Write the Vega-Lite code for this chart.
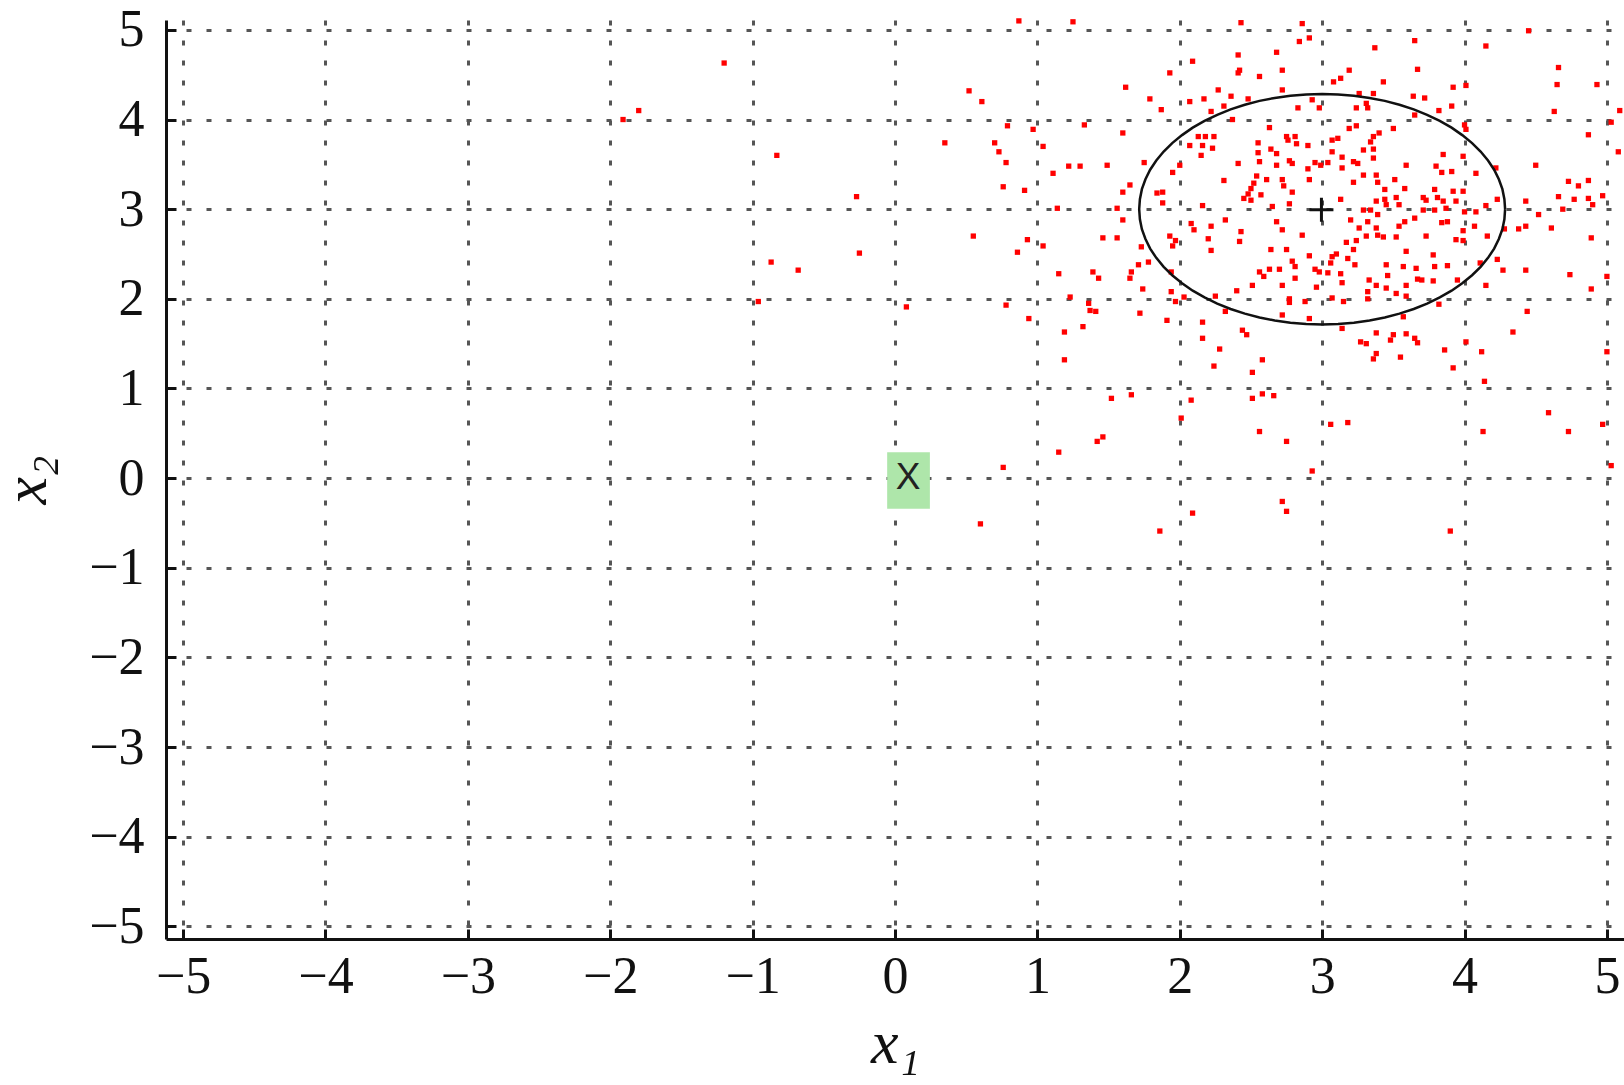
{
  "$schema": "https://vega.github.io/schema/vega-lite/v6.json",
  "width": 1458,
  "height": 919,
  "autosize": {"type": "none"},
  "padding": {"left": 166, "top": 20, "right": 0, "bottom": 146},
  "background": "#ffffff",
  "config": {
    "view": {"stroke": null},
    "axis": {
      "domainColor": "#111111", "domainWidth": 3,
      "tickColor": "#111111", "tickWidth": 3, "tickSize": -10,
      "grid": true, "gridColor": "#555555", "gridWidth": 3, "gridDash": [5, 15],
      "labelFont": "Liberation Serif", "labelFontSize": 52, "labelColor": "#111111",
      "titleFont": "Liberation Serif", "titleFontSize": 62, "titleFontStyle": "italic",
      "titleFontWeight": "normal", "titleColor": "#111111",
      "labelFlush": false, "labelOverlap": false, "labelBound": false
    }
  },
  "datasets": {
    "pts": [
      {"x":-1.20,"y":4.63},{"x":-1.80,"y":4.10},{"x":-1.91,"y":4.00},{"x":-0.83,"y":3.60},{"x":-0.27,"y":3.14},{"x":0.52,"y":4.32},{"x":0.61,"y":4.20},{"x":0.35,"y":3.74},{"x":-0.25,"y":2.51},{"x":-0.87,"y":2.41},{"x":-0.68,"y":2.32},{"x":0.55,"y":2.70},{"x":-0.96,"y":1.97},{"x":0.08,"y":1.91},{"x":0.60,"y":-0.51},
      {"x":0.87,"y":5.10},{"x":1.25,"y":5.09},{"x":2.09,"y":4.65},{"x":1.93,"y":4.52},{"x":1.62,"y":4.36},{"x":1.79,"y":4.23},{"x":2.07,"y":4.20},{"x":2.17,"y":4.23},{"x":1.87,"y":4.11},{"x":0.79,"y":3.93},{"x":0.97,"y":3.89},{"x":1.33,"y":3.94},{"x":1.60,"y":3.85},{"x":1.04,"y":3.70},{"x":0.70,"y":3.74},{"x":0.73,"y":3.64},{"x":0.78,"y":3.52},{"x":1.22,"y":3.48},{"x":1.30,"y":3.48},{"x":1.49,"y":3.49},{"x":1.11,"y":3.40},{"x":1.75,"y":3.52},{"x":1.95,"y":3.41},{"x":2.00,"y":3.49},{"x":2.07,"y":3.71},{"x":2.13,"y":3.81},{"x":2.18,"y":3.81},{"x":2.16,"y":3.71},{"x":2.15,"y":3.60},{"x":0.76,"y":3.25},{"x":0.91,"y":3.21},{"x":1.65,"y":3.27},{"x":1.60,"y":3.19},{"x":1.84,"y":3.18},{"x":1.88,"y":3.19},{"x":1.88,"y":3.07},{"x":1.14,"y":3.01},{"x":1.56,"y":3.01},{"x":2.16,"y":3.04},{"x":1.60,"y":2.88},{"x":2.08,"y":2.84},{"x":2.10,"y":2.77},{"x":2.20,"y":2.67},{"x":0.93,"y":2.66},{"x":1.04,"y":2.59},{"x":0.86,"y":2.52},{"x":1.46,"y":2.68},{"x":1.56,"y":2.68},{"x":1.93,"y":2.70},{"x":1.97,"y":2.65},{"x":1.95,"y":2.59},{"x":1.73,"y":2.58},{"x":1.78,"y":2.41},{"x":1.71,"y":2.38},{"x":1.66,"y":2.30},{"x":1.39,"y":2.30},{"x":1.15,"y":2.28},{"x":1.94,"y":2.30},
      {"x":2.43,"y":5.08},{"x":2.86,"y":5.07},{"x":2.84,"y":4.87},{"x":2.91,"y":4.91},{"x":3.37,"y":4.80},{"x":3.65,"y":4.88},{"x":2.41,"y":4.72},{"x":2.68,"y":4.75},{"x":2.42,"y":4.55},{"x":2.41,"y":4.52},{"x":2.72,"y":4.55},{"x":2.56,"y":4.48},{"x":3.19,"y":4.55},{"x":3.13,"y":4.46},{"x":3.08,"y":4.42},{"x":3.43,"y":4.42},{"x":3.67,"y":4.56},{"x":2.27,"y":4.33},{"x":2.36,"y":4.26},{"x":2.48,"y":4.23},{"x":2.72,"y":4.33},{"x":2.31,"y":4.15},{"x":2.22,"y":4.09},{"x":2.37,"y":4.00},{"x":2.83,"y":4.13},{"x":2.93,"y":4.22},{"x":2.98,"y":4.13},{"x":3.26,"y":4.29},{"x":3.36,"y":4.29},{"x":3.31,"y":4.18},{"x":3.24,"y":4.13},{"x":3.32,"y":4.13},{"x":3.64,"y":4.26},{"x":3.65,"y":4.05},{"x":2.63,"y":3.91},{"x":2.75,"y":3.81},{"x":2.81,"y":3.81},{"x":2.24,"y":3.81},{"x":2.23,"y":3.68},{"x":2.55,"y":3.74},{"x":2.55,"y":3.63},{"x":2.64,"y":3.67},{"x":2.68,"y":3.62},{"x":2.76,"y":3.77},{"x":2.82,"y":3.73},{"x":2.90,"y":3.71},{"x":3.07,"y":3.77},{"x":3.11,"y":3.79},{"x":3.07,"y":3.64},{"x":3.19,"y":3.90},{"x":3.24,"y":3.93},{"x":3.36,"y":3.81},{"x":3.40,"y":3.85},{"x":3.34,"y":3.75},{"x":3.29,"y":3.66},{"x":3.36,"y":3.67},{"x":3.50,"y":3.90},{"x":2.41,"y":3.51},{"x":2.56,"y":3.53},{"x":2.68,"y":3.49},{"x":2.77,"y":3.54},{"x":2.79,"y":3.51},{"x":2.90,"y":3.45},{"x":2.95,"y":3.52},{"x":2.99,"y":3.49},{"x":3.04,"y":3.52},{"x":2.91,"y":3.33},{"x":3.14,"y":3.58},{"x":3.14,"y":3.46},{"x":3.22,"y":3.53},{"x":3.25,"y":3.51},{"x":3.29,"y":3.38},{"x":3.36,"y":3.57},{"x":3.59,"y":3.49},{"x":2.31,"y":3.32},{"x":2.54,"y":3.37},{"x":2.52,"y":3.29},{"x":2.61,"y":3.33},{"x":2.72,"y":3.33},{"x":2.73,"y":3.26},{"x":2.79,"y":3.19},{"x":2.50,"y":3.23},{"x":2.48,"y":3.17},{"x":2.45,"y":3.12},{"x":2.50,"y":3.10},{"x":2.57,"y":3.16},{"x":2.65,"y":3.03},{"x":2.77,"y":3.06},{"x":3.13,"y":3.11},{"x":3.22,"y":3.30},{"x":3.38,"y":3.38},{"x":3.39,"y":3.30},{"x":3.44,"y":3.22},{"x":3.51,"y":3.33},{"x":3.58,"y":3.23},{"x":3.38,"y":3.09},{"x":3.44,"y":3.11},{"x":3.45,"y":3.05},{"x":3.52,"y":3.13},{"x":3.54,"y":3.05},{"x":3.29,"y":2.99},{"x":3.34,"y":2.99},{"x":3.39,"y":2.94},{"x":3.65,"y":2.90},{"x":2.32,"y":2.88},{"x":2.22,"y":2.81},{"x":2.68,"y":2.86},{"x":2.72,"y":2.77},{"x":2.86,"y":2.71},{"x":3.20,"y":2.88},{"x":3.26,"y":2.79},{"x":3.32,"y":2.86},{"x":3.38,"y":2.79},{"x":3.39,"y":2.71},{"x":3.43,"y":2.69},{"x":3.54,"y":2.81},{"x":3.58,"y":2.86},{"x":3.52,"y":2.69},{"x":3.31,"y":2.70},{"x":2.43,"y":2.75},{"x":2.42,"y":2.64},{"x":2.22,"y":2.54},{"x":2.64,"y":2.55},{"x":2.75,"y":2.55},{"x":2.79,"y":2.42},{"x":2.81,"y":2.36},{"x":2.91,"y":2.48},{"x":3.07,"y":2.47},{"x":3.10,"y":2.50},{"x":3.06,"y":2.40},{"x":3.17,"y":2.63},{"x":3.24,"y":2.65},{"x":3.22,"y":2.55},{"x":3.18,"y":2.45},{"x":3.23,"y":2.38},{"x":3.59,"y":2.53},{"x":3.45,"y":2.38},{"x":3.57,"y":2.36},{"x":3.66,"y":2.34},{"x":2.56,"y":2.30},{"x":2.63,"y":2.33},{"x":2.70,"y":2.33},{"x":2.95,"y":2.33},{"x":2.98,"y":2.30},{"x":3.04,"y":2.29},
      {"x":4.45,"y":4.99},{"x":4.15,"y":4.82},{"x":4.66,"y":4.58},{"x":4.65,"y":4.39},{"x":4.93,"y":4.39},{"x":4.01,"y":4.38},{"x":3.92,"y":4.36},{"x":3.72,"y":4.24},{"x":3.91,"y":4.15},{"x":3.82,"y":4.10},{"x":4.63,"y":4.09},{"x":5.09,"y":4.10},{"x":5.03,"y":3.97},{"x":4.87,"y":3.83},{"x":4.00,"y":3.94},{"x":4.01,"y":3.89},{"x":5.08,"y":3.64},{"x":3.85,"y":3.61},{"x":3.99,"y":3.59},{"x":4.50,"y":3.49},{"x":3.80,"y":3.48},{"x":3.84,"y":3.41},{"x":3.91,"y":3.42},{"x":4.08,"y":3.40},{"x":4.22,"y":3.46},{"x":4.73,"y":3.31},{"x":4.80,"y":3.26},{"x":4.87,"y":3.32},{"x":4.97,"y":3.15},{"x":4.66,"y":3.14},{"x":4.77,"y":3.11},{"x":4.87,"y":3.12},{"x":4.90,"y":3.05},{"x":4.69,"y":3.00},{"x":4.52,"y":2.94},{"x":4.43,"y":3.09},{"x":3.79,"y":3.22},{"x":3.92,"y":3.20},{"x":3.99,"y":3.20},{"x":3.71,"y":3.13},{"x":3.73,"y":3.10},{"x":3.81,"y":3.13},{"x":3.85,"y":3.09},{"x":3.94,"y":3.09},{"x":3.71,"y":2.99},{"x":3.79,"y":2.99},{"x":3.87,"y":3.01},{"x":4.00,"y":2.97},{"x":4.08,"y":2.97},{"x":4.15,"y":3.04},{"x":4.23,"y":3.11},{"x":3.84,"y":2.85},{"x":3.88,"y":2.86},{"x":4.07,"y":2.81},{"x":4.28,"y":2.78},{"x":4.38,"y":2.78},{"x":4.43,"y":2.81},{"x":4.61,"y":2.79},{"x":3.73,"y":2.70},{"x":3.99,"y":2.76},{"x":3.94,"y":2.66},{"x":3.99,"y":2.65},{"x":4.16,"y":2.70},{"x":4.89,"y":2.68},{"x":3.78,"y":2.49},{"x":4.11,"y":2.40},{"x":4.23,"y":2.44},{"x":3.88,"y":2.37},{"x":3.79,"y":2.36},{"x":4.27,"y":2.32},{"x":4.43,"y":2.32},{"x":4.74,"y":2.27},
      {"x":1.43,"y":2.23},{"x":1.65,"y":2.23},{"x":1.74,"y":2.11},{"x":0.78,"y":1.93},{"x":0.94,"y":1.78},{"x":1.23,"y":2.02},{"x":1.36,"y":1.95},{"x":1.37,"y":1.87},{"x":1.41,"y":1.86},{"x":1.32,"y":1.69},{"x":1.19,"y":1.63},{"x":1.72,"y":1.84},{"x":1.94,"y":2.08},{"x":1.97,"y":1.97},{"x":2.03,"y":2.02},{"x":1.91,"y":1.76},{"x":2.16,"y":1.74},{"x":2.16,"y":1.56},{"x":1.19,"y":1.32},{"x":1.52,"y":0.89},{"x":1.66,"y":0.93},{"x":2.08,"y":0.87},{"x":2.01,"y":0.67},{"x":1.46,"y":0.46},{"x":1.42,"y":0.41},{"x":1.15,"y":0.29},{"x":0.76,"y":0.12},{"x":2.09,"y":-0.39},{"x":1.86,"y":-0.59},
      {"x":2.59,"y":2.25},{"x":2.81,"y":2.23},{"x":3.13,"y":2.28},{"x":3.33,"y":2.21},{"x":3.46,"y":2.26},{"x":2.51,"y":2.15},{"x":2.72,"y":2.15},{"x":2.96,"y":2.13},{"x":3.14,"y":2.18},{"x":3.38,"y":2.15},{"x":3.45,"y":2.12},{"x":3.59,"y":2.15},{"x":2.40,"y":2.09},{"x":2.25,"y":2.03},{"x":2.77,"y":2.00},{"x":2.77,"y":1.96},{"x":2.88,"y":1.97},{"x":3.07,"y":2.01},{"x":3.15,"y":1.97},{"x":3.32,"y":2.08},{"x":3.32,"y":2.00},{"x":3.52,"y":2.06},{"x":3.59,"y":2.03},{"x":3.67,"y":2.22},{"x":2.32,"y":1.86},{"x":2.72,"y":1.82},{"x":2.91,"y":1.78},{"x":3.57,"y":1.80},{"x":2.44,"y":1.65},{"x":2.47,"y":1.60},{"x":3.14,"y":1.67},{"x":3.38,"y":1.62},{"x":3.50,"y":1.60},{"x":3.48,"y":1.54},{"x":3.59,"y":1.61},{"x":3.65,"y":1.56},{"x":3.67,"y":1.51},{"x":3.27,"y":1.52},{"x":3.31,"y":1.50},{"x":3.38,"y":1.39},{"x":3.36,"y":1.33},{"x":3.55,"y":1.35},{"x":2.28,"y":1.44},{"x":2.24,"y":1.25},{"x":2.58,"y":1.32},{"x":2.51,"y":1.18},{"x":2.58,"y":0.94},{"x":2.66,"y":0.92},{"x":2.51,"y":0.89},{"x":3.06,"y":0.60},{"x":3.18,"y":0.62},{"x":2.56,"y":0.52},{"x":2.75,"y":0.41},{"x":2.93,"y":0.08},{"x":2.72,"y":-0.26},{"x":2.75,"y":-0.37},
      {"x":3.78,"y":2.20},{"x":3.70,"y":2.21},{"x":3.95,"y":2.21},{"x":4.15,"y":2.15},{"x":5.00,"y":2.25},{"x":4.89,"y":2.11},{"x":3.82,"y":1.94},{"x":4.44,"y":1.86},{"x":4.34,"y":1.63},{"x":4.01,"y":1.52},{"x":4.12,"y":1.41},{"x":3.86,"y":1.43},{"x":3.92,"y":1.23},{"x":4.14,"y":1.08},{"x":5.00,"y":1.41},{"x":4.59,"y":0.73},{"x":4.73,"y":0.52},{"x":4.13,"y":0.52},{"x":4.97,"y":0.60},{"x":5.03,"y":0.14},{"x":3.90,"y":-0.59}
    ],
    "ell": [
      {"o":0,"x":4.285,"y":3.000},{"o":1,"x":4.280,"y":3.112},{"o":2,"x":4.266,"y":3.223},{"o":3,"x":4.241,"y":3.333},{"o":4,"x":4.208,"y":3.440},{"o":5,"x":4.165,"y":3.543},{"o":6,"x":4.113,"y":3.643},{"o":7,"x":4.053,"y":3.737},{"o":8,"x":3.984,"y":3.826},{"o":9,"x":3.909,"y":3.909},{"o":10,"x":3.826,"y":3.984},{"o":11,"x":3.737,"y":4.053},{"o":12,"x":3.643,"y":4.113},{"o":13,"x":3.543,"y":4.165},{"o":14,"x":3.440,"y":4.208},{"o":15,"x":3.333,"y":4.241},{"o":16,"x":3.223,"y":4.266},{"o":17,"x":3.112,"y":4.280},{"o":18,"x":3.000,"y":4.285},
      {"o":19,"x":2.888,"y":4.280},{"o":20,"x":2.777,"y":4.266},{"o":21,"x":2.667,"y":4.241},{"o":22,"x":2.560,"y":4.208},{"o":23,"x":2.457,"y":4.165},{"o":24,"x":2.357,"y":4.113},{"o":25,"x":2.263,"y":4.053},{"o":26,"x":2.174,"y":3.984},{"o":27,"x":2.091,"y":3.909},{"o":28,"x":2.016,"y":3.826},{"o":29,"x":1.947,"y":3.737},{"o":30,"x":1.887,"y":3.643},{"o":31,"x":1.835,"y":3.543},{"o":32,"x":1.792,"y":3.440},{"o":33,"x":1.759,"y":3.333},{"o":34,"x":1.734,"y":3.223},{"o":35,"x":1.720,"y":3.112},{"o":36,"x":1.715,"y":3.000},
      {"o":37,"x":1.720,"y":2.888},{"o":38,"x":1.734,"y":2.777},{"o":39,"x":1.759,"y":2.667},{"o":40,"x":1.792,"y":2.560},{"o":41,"x":1.835,"y":2.457},{"o":42,"x":1.887,"y":2.357},{"o":43,"x":1.947,"y":2.263},{"o":44,"x":2.016,"y":2.174},{"o":45,"x":2.091,"y":2.091},{"o":46,"x":2.174,"y":2.016},{"o":47,"x":2.263,"y":1.947},{"o":48,"x":2.357,"y":1.887},{"o":49,"x":2.457,"y":1.835},{"o":50,"x":2.560,"y":1.792},{"o":51,"x":2.667,"y":1.759},{"o":52,"x":2.777,"y":1.734},{"o":53,"x":2.888,"y":1.720},{"o":54,"x":3.000,"y":1.715},
      {"o":55,"x":3.112,"y":1.720},{"o":56,"x":3.223,"y":1.734},{"o":57,"x":3.333,"y":1.759},{"o":58,"x":3.440,"y":1.792},{"o":59,"x":3.543,"y":1.835},{"o":60,"x":3.643,"y":1.887},{"o":61,"x":3.737,"y":1.947},{"o":62,"x":3.826,"y":2.016},{"o":63,"x":3.909,"y":2.091},{"o":64,"x":3.984,"y":2.174},{"o":65,"x":4.053,"y":2.263},{"o":66,"x":4.113,"y":2.357},{"o":67,"x":4.165,"y":2.457},{"o":68,"x":4.208,"y":2.560},{"o":69,"x":4.241,"y":2.667},{"o":70,"x":4.266,"y":2.777},{"o":71,"x":4.280,"y":2.888},{"o":72,"x":4.285,"y":3.000}
    ],
    "center": [{"x":2.995,"y":2.995}],
    "box": [{"x":-0.055,"x2":0.245,"y":-0.34,"y2":0.29}],
    "lab": [{"x":0.092,"y":0.0,"t":"X"}]
  },
  "encoding": {
    "x": {
      "field": "x", "type": "quantitative",
      "scale": {"domain": [-5.12, 5.12], "nice": false, "zero": false},
      "axis": {"values": [-5,-4,-3,-2,-1,0,1,2,3,4,5], "format": "d", "labelPadding": 22,
               "title": "x₁", "titleBaseline": "alphabetic", "titleY": 123}
    },
    "y": {
      "field": "y", "type": "quantitative",
      "scale": {"domain": [-5.14, 5.11], "nice": false, "zero": false},
      "axis": {"values": [-5,-4,-3,-2,-1,0,1,2,3,4,5], "format": "d", "labelPadding": 32,
               "title": "x₂", "titleBaseline": "alphabetic", "titleAngle": 270, "titleX": -121}
    }
  },
  "layer": [
    {"data": {"name": "pts"}, "mark": {"type": "square", "size": 28, "color": "#ff0000", "opacity": 1}},
    {"data": {"name": "ell"}, "mark": {"type": "line", "color": "#111111", "strokeWidth": 2.5},
     "encoding": {"order": {"field": "o", "type": "quantitative"}}},
    {"data": {"name": "center"}, "mark": {"type": "point", "shape": "M-1,0L1,0M0,-1L0,1", "filled": false, "stroke": "#111111", "strokeWidth": 3, "size": 576, "opacity": 1}},
    {"data": {"name": "box"}, "mark": {"type": "rect", "color": "#aee6aa", "opacity": 1},
     "encoding": {"x2": {"field": "x2"}, "y2": {"field": "y2"}}},
    {"data": {"name": "lab"}, "mark": {"type": "text", "font": "Liberation Sans", "fontSize": 37, "color": "#222222", "baseline": "middle", "align": "center"},
     "encoding": {"text": {"field": "t"}}}
  ]
}
